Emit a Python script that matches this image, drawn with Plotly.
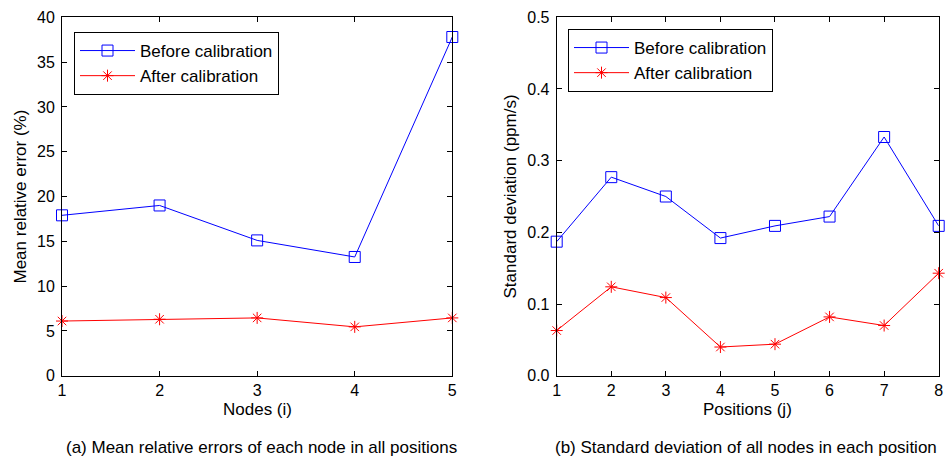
import plotly.graph_objects as go

nodes = [1, 2, 3, 4, 5]
mre_before = [17.9, 19.0, 15.1, 13.25, 37.8]
mre_after = [6.1, 6.3, 6.45, 5.45, 6.45]

positions = [1, 2, 3, 4, 5, 6, 7, 8]
sd_before = [0.187, 0.277, 0.250, 0.192, 0.209, 0.222, 0.333, 0.209]
sd_after = [0.063, 0.124, 0.109, 0.040, 0.044, 0.082, 0.070, 0.143]

left_ticks_y = [0, 5, 10, 15, 20, 25, 30, 35, 40]
right_ticks_y = [0, 0.1, 0.2, 0.3, 0.4, 0.5]

BLUE = "#0000ff"
RED = "#ff0000"
FONT = "Liberation Sans"

fig = go.Figure()

def add_pair(xs, yb, ya, xa, ya_ax, legend, grp):
    fig.add_trace(go.Scatter(
        x=xs, y=yb, mode="lines+markers", name="Before calibration",
        line=dict(color=BLUE, width=1),
        marker=dict(symbol="square-open", size=11, color=BLUE, line=dict(width=1)),
        xaxis=xa, yaxis=ya_ax, legend=legend, legendgroup=grp + "b", cliponaxis=False))
    fig.add_trace(go.Scatter(
        x=xs, y=ya, mode="lines+markers", name="After calibration",
        line=dict(color=RED, width=1),
        marker=dict(symbol="asterisk-open", size=10, color=RED, line=dict(width=1, color=RED)),
        xaxis=xa, yaxis=ya_ax, legend=legend, legendgroup=grp + "a", cliponaxis=False))

add_pair(nodes, mre_before, mre_after, "x", "y", "legend", "L")
add_pair(positions, sd_before, sd_after, "x2", "y2", "legend2", "R")

axis_common = dict(
    showline=True, linecolor="black", linewidth=1, mirror="ticks",
    ticks="inside", ticklen=5, tickcolor="black", tickwidth=1,
    showgrid=False, zeroline=False, automargin=False,
    tickfont=dict(family=FONT, size=16, color="black"),
)

ydom = [1 - 375.7 / 459, 1 - 17.3 / 459]
ymid = 1 - 196.5 / 459
xtitle_y = 1 - 409 / 459


def ann(text, x, y, angle=0, size=17):
    return dict(text=text, x=x, y=y, xref="paper", yref="paper", showarrow=False,
                xanchor="center", yanchor="middle", textangle=angle,
                font=dict(family=FONT, size=size, color="black"))


fig.update_layout(
    width=946, height=459,
    margin=dict(l=0, r=0, t=0, b=0, autoexpand=False),
    paper_bgcolor="white", plot_bgcolor="white",
    font=dict(family=FONT, size=16, color="black"),
    xaxis=dict(domain=[62 / 946, 452.3 / 946], range=[1, 5], tickvals=nodes,
               anchor="y", **axis_common),
    yaxis=dict(domain=ydom, range=[0, 40], tickvals=left_ticks_y, ticklabelstandoff=3,
               anchor="x", **axis_common),
    xaxis2=dict(domain=[556.7 / 946, 938.7 / 946], range=[1, 8], tickvals=positions,
                anchor="y2", **axis_common),
    yaxis2=dict(domain=ydom, range=[0, 0.5], tickvals=right_ticks_y, tickformat=".1f",
                ticklabelstandoff=3, anchor="x2", **axis_common),
    legend=dict(x=74 / 946, y=1 - 32 / 459, xanchor="left", yanchor="top",
                bordercolor="black", borderwidth=1, bgcolor="white",
                font=dict(family=FONT, size=17), tracegroupgap=0, itemwidth=55),
    legend2=dict(x=568 / 946, y=1 - 29 / 459, xanchor="left", yanchor="top",
                 bordercolor="black", borderwidth=1, bgcolor="white",
                 font=dict(family=FONT, size=17), tracegroupgap=0, itemwidth=55),
    showlegend=True,
    annotations=[
        ann("Nodes (i)", 257 / 946, xtitle_y),
        ann("Positions (j)", 747.7 / 946, xtitle_y),
        ann("Mean relative error (%)", 20 / 946, ymid, -90),
        ann("Standard deviation (ppm/s)", 510 / 946, ymid, -90),
        ann("(a) Mean relative errors of each node in all positions", 261 / 946, 1 - 447 / 459),
        ann("(b) Standard deviation of all nodes in each position", 746 / 946, 1 - 447 / 459),
    ],
)

fig.write_html("out.html", config={"displayModeBar": False},
               post_script="document.body.style.margin='0';document.body.style.padding='0';")
